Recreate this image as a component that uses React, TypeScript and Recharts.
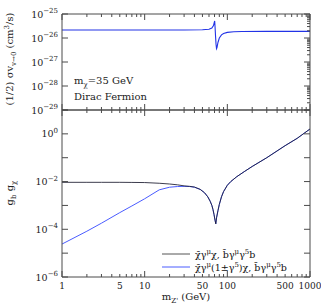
import React from "react";
import { LineChart, Line, XAxis, YAxis, Legend } from "recharts";

// top panel: annihilation cross section vs Z' mass
const MASS_TOP = [1, 10, 30, 50, 60, 65, 68, 69.5, 70.3, 71, 72, 73, 74, 75, 77, 80, 85, 90, 100, 120, 150, 300, 1000];
const SIGMA_V = [
  2.15e-26, 2.15e-26, 2.17e-26, 2.2e-26, 2.3e-26, 2.6e-26, 3.3e-26, 4.5e-26, 5.1e-26, 3.0e-26, 1.2e-26,
  5.5e-27, 3.6e-27, 4.0e-27, 6.5e-27, 1.0e-26, 1.35e-26, 1.55e-26, 1.72e-26, 1.82e-26, 1.86e-26, 1.88e-26, 1.88e-26,
];

// bottom panel: required couplings
const MASS_BOT = [
  1, 2, 3, 5, 7, 10, 15, 20, 25, 30, 35, 40, 47, 53, 58, 62, 65, 67, 69, 71,
  72.5, 74, 77, 80, 85, 90, 100, 110, 130, 160, 200, 300, 500, 700, 1000,
];
const G_VECTOR = [
  9.3e-3, 9.3e-3, 9.3e-3, 9.3e-3, 9.2e-3, 9.1e-3, 8.5e-3, 7.9e-3, 7.3e-3, 6.6e-3,
  6.3e-3, 5.9e-3, 4.7e-3, 3.4e-3, 2.3e-3, 1.5e-3, 1.0e-3, 6.8e-4, 4.2e-4, 2.4e-4,
  1.7e-4, 3.0e-4, 6.0e-4, 1.1e-3, 2.3e-3, 3.8e-3, 7.0e-3, 1.0e-2, 1.6e-2, 2.6e-2,
  4.3e-2, 1.0e-1, 3.2e-1, 6.5e-1, 1.6,
];
const G_CHIRAL = [
  2.4e-5, 8.3e-5, 1.8e-4, 5.0e-4, 9.5e-4, 1.9e-3, 4.5e-3, 5.8e-3, 6.2e-3, 6.3e-3,
  6.2e-3, 5.8e-3, 4.7e-3, 3.4e-3, 2.3e-3, 1.5e-3, 1.0e-3, 6.8e-4, 4.2e-4, 2.4e-4,
  1.7e-4, 3.0e-4, 6.0e-4, 1.1e-3, 2.3e-3, 3.8e-3, 7.0e-3, 1.0e-2, 1.6e-2, 2.6e-2,
  4.3e-2, 1.0e-1, 3.2e-1, 6.5e-1, 1.6,
];

const X_DECADES = [1, 10, 100];
const X_LABELS = [1, 5, 10, 50, 100, 500, 1000];
const Y1_DECADES = [1e-29, 1e-28, 1e-27, 1e-26, 1e-25];
const Y1_LABELS = [1e-29, 1e-28, 1e-27, 1e-26, 1e-25];
const Y2_DECADES = [1e-6, 1e-5, 1e-4, 1e-3, 1e-2, 1e-1, 1, 10];
const Y2_LABELS = [1e-6, 1e-4, 1e-2, 1];

const FONT = "'DejaVu Serif', serif";
const AXIS = "#4a4a4a";
const BLUE = "#2233e6";
const BLUE2 = "#4a5cff";

const withMinor = (decades: number[]) => decades.flatMap((d, i) =>
  i === decades.length - 1 ? [d] : [1, 2, 3, 4, 5, 6, 7, 8, 9].map((k) => k * d));
const X_TICKS = withMinor([...X_DECADES, 1000]);
const isMajor = (v: number, majors: number[]) => majors.some((m) => Math.abs(v / m - 1) < 1e-6);

const topData = MASS_TOP.map((m, i) => ({ m, sv: SIGMA_V[i] }));
const botData = MASS_BOT.map((m, i) => ({ m, gv: G_VECTOR[i], ga: G_CHIRAL[i] }));

const XTick = (p: any) => {
  const { x, y, payload, side, label } = p;
  const v = payload.value;
  const len = isMajor(v, [...X_DECADES, 1000]) ? 6 : 3;
  const dir = side === "bottom" ? -1 : 1;
  return (
    <g>
      <line x1={x} x2={x} y1={y} y2={y + dir * len} stroke={AXIS} />
      {label && isMajor(v, X_LABELS) && (
        <text x={x} y={y + 12} textAnchor="middle" fontSize={9} fontFamily={FONT} fill="#222">{v}</text>
      )}
    </g>
  );
};

const pow = (v: number) => Math.round(Math.log10(v));

const YTick = (p: any) => {
  const { x, y, payload, side, majors, labels } = p;
  const v = payload.value;
  const len = isMajor(v, majors) ? 6 : 3;
  const dir = side === "left" ? 1 : -1;
  const e = pow(v);
  return (
    <g>
      <line x1={x} x2={x + dir * len} y1={y} y2={y} stroke={AXIS} />
      {side === "left" && labels && isMajor(v, labels) && (
        <text x={x - 4} y={y + 3.5} textAnchor="end" fontSize={9.5} fontFamily={FONT} fill="#222">
          10<tspan dy={-4.5} fontSize={7}>{e < 0 ? `\u2212${-e}` : e}</tspan>
        </text>
      )}
    </g>
  );
};

const renderLegend = () => (
  <div style={{ fontFamily: FONT, fontSize: 9.5, color: "#111", lineHeight: "11px", whiteSpace: "nowrap" }}>
    <div style={{ display: "flex", alignItems: "center" }}>
      <svg width={30} height={4} style={{ marginRight: 3 }}><line x1={0} x2={28} y1={2} y2={2} stroke="#555" /></svg>
      <span>χ̄γ<sup style={{ fontSize: 7 }}>μ</sup>χ, b̄γ<sup style={{ fontSize: 7 }}>μ</sup>γ<sup style={{ fontSize: 7 }}>5</sup>b</span>
    </div>
    <div style={{ display: "flex", alignItems: "center" }}>
      <svg width={30} height={4} style={{ marginRight: 3 }}><line x1={0} x2={28} y1={2} y2={2} stroke={BLUE2} /></svg>
      <span>χ̄γ<sup style={{ fontSize: 7 }}>μ</sup>(1±γ<sup style={{ fontSize: 7 }}>5</sup>)χ, b̄γ<sup style={{ fontSize: 7 }}>μ</sup>γ<sup style={{ fontSize: 7 }}>5</sup>b</span>
    </div>
  </div>
);

export default function App() {
  return (
    <div style={{ position: "absolute", left: 0, top: 0, width: 321, height: 308, background: "#fff" }}>
      <div style={{ position: "absolute", left: 0, top: 0 }}>
        <LineChart width={321} height={120} data={topData} margin={{ top: 13, right: 10, bottom: 9, left: 0 }}>
          <XAxis xAxisId="b" dataKey="m" type="number" scale="log" domain={[1, 1000]} allowDataOverflow
            ticks={X_TICKS} interval={0} height={1} tickSize={0} tickMargin={0} tickLine={false} stroke={AXIS}
            tick={(p: any) => <XTick {...p} side="bottom" />} />
          <XAxis xAxisId="t" orientation="top" dataKey="m" type="number" scale="log" domain={[1, 1000]} allowDataOverflow
            ticks={X_TICKS} interval={0} height={1} tickSize={0} tickMargin={0} tickLine={false} stroke={AXIS}
            tick={(p: any) => <XTick {...p} side="top" />} />
          <YAxis yAxisId="l" type="number" scale="log" domain={[1e-29, 1e-25]} allowDataOverflow width={62}
            ticks={Y1_DECADES} interval={0} tickSize={0} tickMargin={0} tickLine={false} stroke={AXIS}
            tick={(p: any) => <YTick {...p} side="left" majors={Y1_DECADES} labels={Y1_LABELS} />} />
          <YAxis yAxisId="r" orientation="right" type="number" scale="log" domain={[1e-29, 1e-25]} allowDataOverflow width={1}
            ticks={withMinor(Y1_DECADES)} interval={0} tickSize={0} tickMargin={0} tickLine={false} stroke={AXIS}
            tick={(p: any) => <YTick {...p} side="right" majors={Y1_DECADES} />} />
          <Line xAxisId="b" yAxisId="l" dataKey="sv" type="linear" stroke={BLUE} strokeWidth={1.1} dot={false} isAnimationActive={false} />
        </LineChart>
      </div>
      <div style={{ position: "absolute", left: 0, top: 100 }}>
        <LineChart width={321} height={208} data={botData} margin={{ top: 9, right: 10, bottom: 30, left: 0 }}>
          <XAxis xAxisId="b" dataKey="m" type="number" scale="log" domain={[1, 1000]} allowDataOverflow
            ticks={X_TICKS} interval={0} height={1} tickSize={0} tickMargin={0} tickLine={false} stroke={AXIS}
            tick={(p: any) => <XTick {...p} side="bottom" label />} />
          <XAxis xAxisId="t" orientation="top" dataKey="m" type="number" scale="log" domain={[1, 1000]} allowDataOverflow
            ticks={X_TICKS} interval={0} height={1} tickSize={0} tickMargin={0} tickLine={false} stroke={AXIS}
            tick={(p: any) => <XTick {...p} side="top" />} />
          <YAxis yAxisId="l" type="number" scale="log" domain={[1e-6, 10]} allowDataOverflow width={62}
            ticks={Y2_DECADES} interval={0} tickSize={0} tickMargin={0} tickLine={false} stroke={AXIS}
            tick={(p: any) => <YTick {...p} side="left" majors={Y2_DECADES} labels={Y2_LABELS} />} />
          <YAxis yAxisId="r" orientation="right" type="number" scale="log" domain={[1e-6, 10]} allowDataOverflow width={1}
            ticks={Y2_DECADES} interval={0} tickSize={0} tickMargin={0} tickLine={false} stroke={AXIS}
            tick={(p: any) => <YTick {...p} side="right" majors={Y2_DECADES} />} />
          <Line xAxisId="b" yAxisId="l" dataKey="ga" type="linear" stroke={BLUE2} strokeWidth={1} dot={false} isAnimationActive={false} />
          <Line xAxisId="b" yAxisId="l" dataKey="gv" type="linear" stroke="#1a1a2e" strokeWidth={1} strokeOpacity={0.85} dot={false} isAnimationActive={false} />
          <Legend layout="horizontal" verticalAlign="middle" content={renderLegend}
            wrapperStyle={{ position: "absolute", left: 162, top: 147, width: 150, height: 22 }} />
        </LineChart>
      </div>
      <svg width={321} height={308} style={{ position: "absolute", left: 0, top: 0, pointerEvents: "none" }} fontFamily={FONT} fill="#222">
        <text transform="rotate(-90 13 59)" x={13} y={59} textAnchor="middle" fontSize={10}>
          (1/2)  σv<tspan dy={3} fontSize={7}>v→0</tspan><tspan dy={-3}>  (cm</tspan><tspan dy={-4} fontSize={7}>3</tspan><tspan dy={4}>/s)</tspan>
        </text>
        <text transform="rotate(-90 13 193)" x={13} y={193} textAnchor="middle" fontSize={10}>
          g<tspan dy={3} fontSize={7}>b</tspan><tspan dy={-3}> g</tspan><tspan dy={3} fontSize={7}>χ</tspan>
        </text>
        <text x={186} y={300} textAnchor="middle" fontSize={10}>
          m<tspan dy={3} fontSize={7}>Z'</tspan><tspan dy={-3}>  (GeV)</tspan>
        </text>
        <text x={74} y={84} fontSize={10}>
          m<tspan dy={3} fontSize={7}>χ</tspan><tspan dy={-3}>=35  GeV</tspan>
        </text>
        <text x={74} y={100} fontSize={10}>Dirac  Fermion</text>
      </svg>
    </div>
  );
}
